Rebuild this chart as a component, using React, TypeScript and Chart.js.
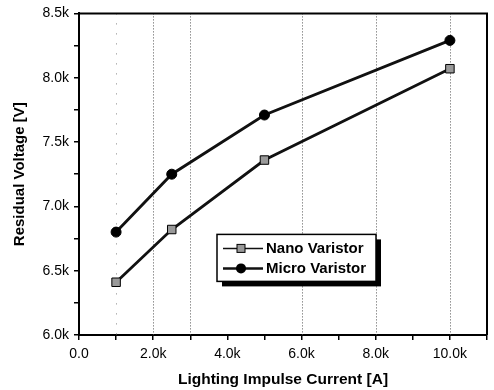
import { useEffect, useRef } from 'react';
import { Chart, registerables } from 'chart.js';
Chart.register(...registerables);

const currentsA = [1000, 2500, 5000, 10000];
const nanoVaristorV = [6410, 6820, 7360, 8070];
const microVaristorV = [6800, 7250, 7710, 8290];
const seriesLabels = ['Nano Varistor', 'Micro Varistor'];
const gridLinesX = [2000, 3000, 6000, 8000, 10000];
const faintGridX = [1000];
const xTitle = 'Lighting Impulse Current [A]';
const yTitle = 'Residual Voltage [V]';

const FONT = '"Liberation Sans", Arial, sans-serif';

const fmtK = (v: number) => (v === 0 ? '0.0' : (v / 1000).toFixed(1) + 'k');

const framePlugin = {
  id: 'frameAndGrid',
  beforeDatasetsDraw(chart: any) {
    const { ctx, chartArea: ca, scales } = chart;
    ctx.save();
    ctx.lineWidth = 1;
    ctx.strokeStyle = '#555';
    ctx.setLineDash([1, 2]);
    gridLinesX.forEach((v) => {
      const x = Math.round(scales.x.getPixelForValue(v)) + 0.5;
      ctx.beginPath();
      ctx.moveTo(x, ca.top);
      ctx.lineTo(x, ca.bottom);
      ctx.stroke();
    });
    ctx.strokeStyle = '#888';
    ctx.setLineDash([1, 9]);
    faintGridX.forEach((v) => {
      const x = Math.round(scales.x.getPixelForValue(v)) + 0.5;
      ctx.beginPath();
      ctx.moveTo(x, ca.top);
      ctx.lineTo(x, ca.bottom);
      ctx.stroke();
    });
    ctx.setLineDash([]);
    ctx.strokeStyle = '#000';
    ctx.lineWidth = 2;
    ctx.beginPath();
    ctx.moveTo(ca.left, ca.top);
    ctx.lineTo(ca.right, ca.top);
    ctx.lineTo(ca.right, ca.bottom);
    ctx.stroke();
    ctx.restore();
  },
  afterDraw(chart: any) {
    const { ctx, chartArea: ca } = chart;
    const bx = ca.left + 138;
    const by = ca.top + 221;
    const bw = 159;
    const bh = 47;
    ctx.save();
    ctx.fillStyle = '#000';
    ctx.fillRect(bx + 5, by + 5, bw, bh);
    ctx.fillStyle = '#fff';
    ctx.fillRect(bx, by, bw, bh);
    ctx.strokeStyle = '#000';
    ctx.lineWidth = 1.5;
    ctx.strokeRect(bx, by, bw, bh);
    chart.data.datasets.forEach((ds: any, i: number) => {
      const y = by + 14 + i * 20;
      ctx.strokeStyle = '#111';
      ctx.lineWidth = i === 0 ? 1.5 : 2.5;
      ctx.beginPath();
      ctx.moveTo(bx + 6, y);
      ctx.lineTo(bx + 46, y);
      ctx.stroke();
      const mx = bx + 24;
      if (i === 0) {
        ctx.fillStyle = '#999';
        ctx.fillRect(mx - 4, y - 4, 8, 8);
        ctx.lineWidth = 1;
        ctx.strokeStyle = '#000';
        ctx.strokeRect(mx - 4, y - 4, 8, 8);
      } else {
        ctx.fillStyle = '#000';
        ctx.beginPath();
        ctx.arc(mx, y, 5, 0, Math.PI * 2);
        ctx.fill();
      }
      ctx.fillStyle = '#000';
      ctx.font = 'bold 15px ' + FONT;
      ctx.textBaseline = 'middle';
      ctx.textAlign = 'left';
      ctx.fillText(ds.label, bx + 49, y);
    });
    ctx.restore();
  },
};

export default function App() {
  const ref = useRef<HTMLCanvasElement | null>(null);
  useEffect(() => {
    if (!ref.current) return;
    const chart = new Chart(ref.current, {
      type: 'line',
      data: {
        datasets: [
          {
            label: seriesLabels[0],
            data: currentsA.map((x, i) => ({ x, y: nanoVaristorV[i] })),
            borderColor: '#111',
            borderWidth: 2.8,
            pointStyle: 'rect',
            pointRadius: 6,
            pointBackgroundColor: '#999',
            pointBorderColor: '#000',
            pointBorderWidth: 1,
            tension: 0,
          },
          {
            label: seriesLabels[1],
            data: currentsA.map((x, i) => ({ x, y: microVaristorV[i] })),
            borderColor: '#111',
            borderWidth: 2.8,
            pointStyle: 'circle',
            pointRadius: 5,
            pointBackgroundColor: '#000',
            pointBorderColor: '#000',
            pointBorderWidth: 1,
            tension: 0,
          },
        ],
      },
      options: {
        animation: false,
        responsive: true,
        maintainAspectRatio: false,
        layout: { padding: { top: 12, right: 3, left: 0, bottom: 0 } },
        plugins: { legend: { display: false }, tooltip: { enabled: false } },
        scales: {
          x: {
            type: 'linear',
            min: 0,
            max: 11000,
            afterFit: (s: any) => { s.height = 55; },
            ticks: {
              stepSize: 1000,
              autoSkip: false,
              maxRotation: 0,
              padding: 6,
              color: '#000',
              font: { family: FONT, size: 14 },
              callback: (v: any) => (Number(v) % 2000 === 0 && Number(v) <= 10000 ? fmtK(Number(v)) : ''),
            },
            grid: { drawOnChartArea: false, drawTicks: true, tickLength: 5, color: '#000', lineWidth: 1.5 },
            border: { display: true, color: '#000', width: 2 },
            title: { display: true, text: xTitle, color: '#000', font: { family: FONT, size: 15.5, weight: 'bold' }, padding: { top: 4, bottom: 1 } },
          },
          y: {
            type: 'linear',
            min: 6000,
            max: 8500,
            afterFit: (s: any) => { s.width = 79; },
            ticks: {
              stepSize: 250,
              autoSkip: false,
              padding: 5,
              color: '#000',
              font: { family: FONT, size: 14 },
              callback: (v: any) => (Number(v) % 500 === 0 ? fmtK(Number(v)) : ''),
            },
            grid: { drawOnChartArea: false, drawTicks: true, tickLength: 5, color: '#000', lineWidth: 1.5 },
            border: { display: true, color: '#000', width: 2 },
            title: { display: true, text: yTitle, color: '#000', font: { family: FONT, size: 15, weight: 'bold' }, padding: { top: 11, bottom: 0 } },
          },
        },
      },
      plugins: [framePlugin],
    } as any);
    return () => chart.destroy();
  }, []);
  return (
    <div style={{ position: 'fixed', left: 0, top: 0, width: 494, height: 390, background: '#fff' }}>
      <canvas ref={ref} />
    </div>
  );
}
